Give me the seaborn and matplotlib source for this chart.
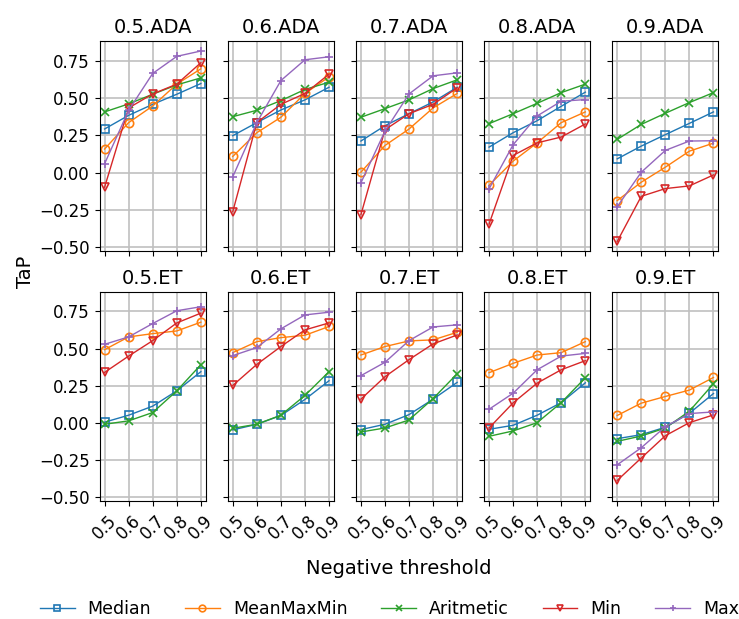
import numpy as np
import pandas as pd
import matplotlib
matplotlib.use("Agg")
import matplotlib.pyplot as plt
import seaborn as sns

thresholds = [0.5, 0.6, 0.7, 0.8, 0.9]
panels = ["0.5.ADA", "0.6.ADA", "0.7.ADA", "0.8.ADA", "0.9.ADA",
          "0.5.ET", "0.6.ET", "0.7.ET", "0.8.ET", "0.9.ET"]
methods = ["Median", "MeanMaxMin", "Aritmetic", "Min", "Max"]

median = [
    [0.293, 0.385, 0.459, 0.527, 0.599],
    [0.248, 0.336, 0.421, 0.489, 0.574],
    [0.212, 0.315, 0.396, 0.475, 0.574],
    [0.171, 0.268, 0.349, 0.446, 0.541],
    [0.092, 0.178, 0.255, 0.331, 0.408],
    [0.005, 0.052, 0.113, 0.216, 0.345],
    [-0.047, -0.009, 0.050, 0.158, 0.284],
    [-0.045, -0.009, 0.056, 0.160, 0.273],
    [-0.043, -0.016, 0.052, 0.137, 0.270],
    [-0.106, -0.079, -0.029, 0.065, 0.198],
]
meanmaxmin = [
    [0.158, 0.336, 0.448, 0.595, 0.698],
    [0.108, 0.268, 0.372, 0.532, 0.644],
    [0.002, 0.182, 0.293, 0.435, 0.532],
    [-0.086, 0.077, 0.200, 0.336, 0.408],
    [-0.189, -0.065, 0.036, 0.144, 0.198],
    [0.493, 0.579, 0.601, 0.619, 0.678],
    [0.473, 0.547, 0.574, 0.590, 0.649],
    [0.457, 0.514, 0.552, 0.559, 0.610],
    [0.338, 0.401, 0.457, 0.473, 0.547],
    [0.050, 0.133, 0.178, 0.221, 0.306],
]
aritmetic = [
    [0.408, 0.462, 0.527, 0.590, 0.637],
    [0.376, 0.419, 0.484, 0.559, 0.608],
    [0.372, 0.430, 0.489, 0.565, 0.624],
    [0.329, 0.396, 0.466, 0.538, 0.595],
    [0.223, 0.324, 0.399, 0.471, 0.538],
    [-0.009, 0.014, 0.070, 0.216, 0.392],
    [-0.036, -0.009, 0.052, 0.185, 0.345],
    [-0.061, -0.034, 0.020, 0.164, 0.331],
    [-0.090, -0.054, 0.002, 0.137, 0.304],
    [-0.124, -0.088, -0.034, 0.079, 0.264],
]
minimum = [
    [-0.099, 0.435, 0.529, 0.595, 0.739],
    [-0.264, 0.336, 0.459, 0.532, 0.662],
    [-0.284, 0.288, 0.396, 0.459, 0.570],
    [-0.347, 0.115, 0.200, 0.239, 0.327],
    [-0.464, -0.160, -0.108, -0.090, -0.016],
    [0.340, 0.450, 0.554, 0.673, 0.739],
    [0.252, 0.394, 0.514, 0.626, 0.673],
    [0.160, 0.311, 0.426, 0.532, 0.592],
    [-0.034, 0.135, 0.268, 0.358, 0.419],
    [-0.387, -0.236, -0.086, 0.002, 0.054],
]
maximum = [
    [0.059, 0.419, 0.667, 0.782, 0.818],
    [-0.029, 0.336, 0.619, 0.759, 0.779],
    [-0.070, 0.279, 0.529, 0.651, 0.671],
    [-0.110, 0.187, 0.381, 0.480, 0.491],
    [-0.230, 0.002, 0.149, 0.212, 0.214],
    [0.529, 0.579, 0.669, 0.755, 0.782],
    [0.453, 0.507, 0.633, 0.727, 0.745],
    [0.318, 0.408, 0.554, 0.646, 0.660],
    [0.092, 0.200, 0.358, 0.450, 0.468],
    [-0.282, -0.167, -0.025, 0.063, 0.074],
]

series = {"Median": median, "MeanMaxMin": meanmaxmin, "Aritmetic": aritmetic,
          "Min": minimum, "Max": maximum}
rows = []
for m, vals in series.items():
    for p, panel in enumerate(panels):
        for t, v in zip(thresholds, vals[p]):
            rows.append({"panel": panel, "method": m, "threshold": t, "TaP": v})
df = pd.DataFrame(rows)

colors = dict(zip(methods, sns.color_palette("tab10", 5)))
markers = {"Median": "s", "MeanMaxMin": "o", "Aritmetic": "x", "Min": "v", "Max": "+"}

plt.rcParams["font.size"] = 12
fig, axes = plt.subplots(2, 5, figsize=(7.39, 6.19), dpi=100, sharex=True, sharey=True)
fig.subplots_adjust(left=0.135, right=0.972, top=0.933, bottom=0.19, wspace=0.21, hspace=0.195)

for ax, panel in zip(axes.flat, panels):
    sub = df[df.panel == panel]
    for m in methods:
        d = sub[sub.method == m]
        sns.lineplot(data=d, x="threshold", y="TaP", ax=ax, color=colors[m],
                     marker=markers[m], markersize=6, linewidth=1,
                     markerfacecolor="none", markeredgecolor=colors[m],
                     markeredgewidth=1.2, label=m, legend=False)
    ax.set_title(panel, fontsize=14)
    ax.grid(True, color="#c0c0c0", linewidth=1.2)
    ax.set_axisbelow(True)
    ax.set_xlabel("")
    ax.set_ylabel("")
    ax.set_xticks(thresholds)
    ax.set_xticklabels([str(t) for t in thresholds], rotation=45)
    ax.tick_params(labelsize=12)

axes[0, 0].set_yticks([-0.5, -0.25, 0.0, 0.25, 0.5, 0.75])
fig.text(0.035, 0.56, "TaP", rotation=90, va="center", ha="center", fontsize=14)
fig.text(0.54, 0.082, "Negative threshold", ha="center", va="center", fontsize=14)

handles, labels = axes[0, 0].get_legend_handles_labels()
fig.legend(handles, labels, loc="lower center", ncol=5, frameon=False,
           bbox_to_anchor=(0.527, -0.024), fontsize=12.5, handlelength=2.0,
           handletextpad=0.75, columnspacing=1.95, markerscale=0.8)

fig.savefig("out.png", dpi=100)
